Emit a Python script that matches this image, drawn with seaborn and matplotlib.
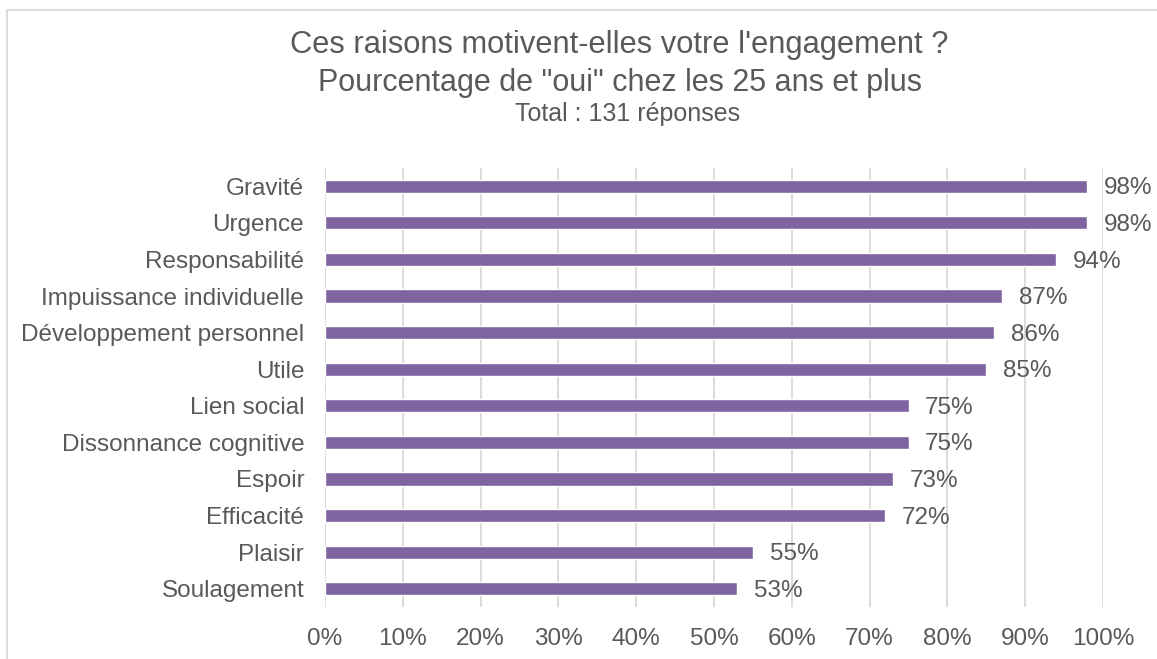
import matplotlib
matplotlib.use("Agg")
import matplotlib.pyplot as plt
import seaborn as sns
import pandas as pd
from matplotlib.patches import Rectangle

categories = ["Gravité", "Urgence", "Responsabilité", "Impuissance individuelle",
              "Développement personnel", "Utile", "Lien social", "Dissonnance cognitive",
              "Espoir", "Efficacité", "Plaisir", "Soulagement"]
values = [98, 98, 94, 87, 86, 85, 75, 75, 73, 72, 55, 53]
xticks = [0, 10, 20, 30, 40, 50, 60, 70, 80, 90, 100]
xtick_labels = [f"{t}%" for t in xticks]

sns.set_theme(style="white")
plt.rcParams['font.family'] = ['Liberation Sans', 'DejaVu Sans']

grey = "#595959"
fig = plt.figure(figsize=(11.57, 6.59), dpi=100)
ax = fig.add_axes([325/1157, 1-607/659, (1103-325)/1157, (607-168)/659])

df = pd.DataFrame({"cat": categories, "val": values})
sns.barplot(data=df, x="val", y="cat", orient="h", color="#8064A2", width=0.36,
            saturation=1, ax=ax, zorder=3)

ax.set_xlim(0, 100)
ax.set_ylim(len(categories) - 0.5, -0.5)
ax.set_xticks(xticks)
ax.set_xticklabels(xtick_labels)
ax.xaxis.grid(True, color="#D9D9D9", linewidth=1.3, zorder=0)
ax.yaxis.grid(False)
for s in ax.spines.values():
    s.set_visible(False)
ax.tick_params(axis="both", length=0, labelsize=17.5, colors=grey)
ax.tick_params(axis="x", pad=15)
ax.tick_params(axis="y", pad=15)
ax.set_xlabel("")
ax.set_ylabel("")

for i, v in enumerate(values):
    ax.annotate(f"{v}%", (v, i), xytext=(12, -1.5), textcoords="offset points",
                va="center", ha="left", fontsize=17.5, color=grey)

fig.text(619/1157, 1-45/659, "Ces raisons motivent-elles votre l'engagement ?",
         ha="center", va="center", fontsize=22.2, color=grey)
fig.text(620/1157, 1-83/659, "Pourcentage de \"oui\" chez les 25 ans et plus",
         ha="center", va="center", fontsize=22, color=grey)
fig.text(628/1157, 1-114/659, "Total : 131 réponses",
         ha="center", va="center", fontsize=18, color=grey)

fig.patches.append(Rectangle((7/1157, -0.5), 2, 1 - 10/659 + 0.5, transform=fig.transFigure,
                             fill=False, edgecolor="#D9D9D9", linewidth=1.3))

fig.savefig("out.png", dpi=100, facecolor="white")
